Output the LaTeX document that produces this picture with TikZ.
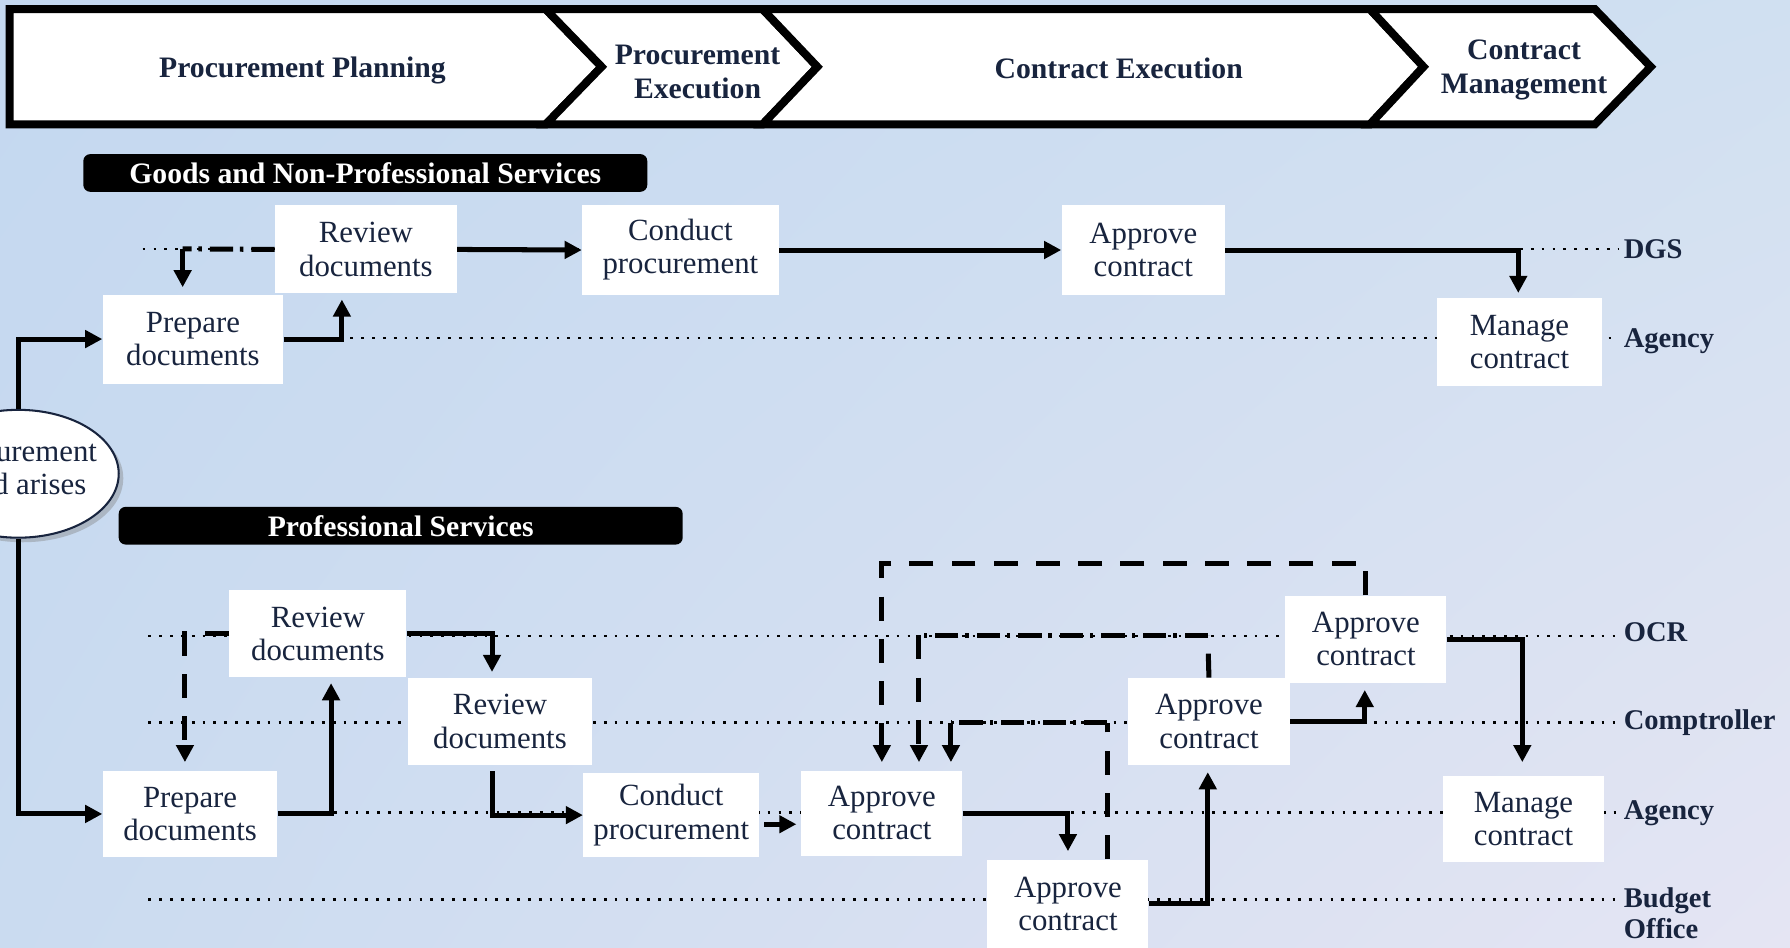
\documentclass[tikz,border=0pt]{standalone}
\usepackage{fontspec}
\setmainfont{Liberation Serif}
\usetikzlibrary{shapes.geometric,arrows.meta,calc,shadows,shadings}
\definecolor{navy}{RGB}{24,36,62}
\definecolor{bgUL}{RGB}{196,216,240}
\definecolor{bgUR}{RGB}{208,224,241}
\definecolor{bgLL}{RGB}{202,219,240}
\definecolor{bgLR}{RGB}{229,229,243}
\newcommand\dgbody{\fontsize{13.5}{14.5}\selectfont}
\newcommand\dglane{\bfseries\fontsize{12.5}{13.5}\selectfont}
\newcommand\dgtag{\bfseries\fontsize{13}{15}\selectfont}
\newcommand\dgphase{\bfseries\fontsize{13}{15}\selectfont}
\begin{document}
\begin{tikzpicture}[x=0.5pt,y=-0.5pt,
  box/.style={fill=white, text=navy, align=center, inner sep=0pt, font=\dgbody},
  flow/.style={line width=2.2pt, line join=miter, -{Triangle[length=7.5pt,width=7.5pt]}},
  dashedl/.style={line width=2.2pt, dash pattern=on 10.5pt off 8pt},
  dashdot/.style={line width=2.2pt, dash pattern=on 10.2pt off 3.5pt on 1.5pt off 3pt},
  lane/.style={line width=1.2pt, dash pattern=on 1.2pt off 3.55pt},
  lanelbl/.style={anchor=west, text=navy, font=\dglane, inner sep=0pt},
  tag/.style={fill=black, rounded corners=3pt, text=white, font=\dgtag, inner sep=0pt},
  phase/.style={line width=3.5pt, fill=white, line join=miter},
  phasetxt/.style={text=navy, font=\dgphase, align=center, inner sep=0pt}]
\clip (0,0) rectangle (1568,830.4);
\shade[upper left=bgUL, upper right=bgUR, lower left=bgLL, lower right=bgLR] (0,0) rectangle (1568,830.4);

% phase banner
\draw[phase] (8.5,8) -- (478,8) -- (527,58.5) -- (478,109) -- (8.5,109) -- cycle;
\draw[phase] (478,8) -- (668,8) -- (716,58.5) -- (668,109) -- (478,109) -- (527,58.5) -- cycle;
\draw[phase] (668,8) -- (1200,8) -- (1247,58.5) -- (1200,109) -- (668,109) -- (716,58.5) -- cycle;
\draw[phase] (1200,8) -- (1397,8) -- (1446,58.5) -- (1397,109) -- (1200,109) -- (1247,58.5) -- cycle;
\node[phasetxt] (ph1) at (265,62) {Procurement Planning};
\node[phasetxt] (ph2) at (611,63) {Procurement\\Execution};
\node[phasetxt] (ph3) at (980,60) {Contract Execution};
\node[phasetxt] (ph4) at (1335,61) {Contract\\Management};

% section tags
\node[tag, minimum width=247pt, minimum height=16.5pt] (tagG) at (320,151.5) {Goods and Non-Professional Services};
\node[tag, minimum width=247pt, minimum height=16.5pt] (tagP) at (351,460.5) {Professional Services};

% lane labels and lanes
\node[lanelbl] (lDGS) at (1422,218) {DGS};
\node[lanelbl] (lAg1) at (1422,299) {Agency};
\node[lanelbl] (lOCR) at (1422,554) {OCR};
\node[lanelbl] (lCom) at (1422,633) {Comptroller};
\node[lanelbl] (lAg2) at (1422,712) {Agency};
\node[lanelbl, align=left] (lBud) at (1422,800) {Budget\\Office};
\draw[lane] (125,218) -- (1418,218);
\draw[lane] (250,296) -- (1418,296);
\draw[lane] (130,557) -- (1418,557);
\draw[lane] (130,633) -- (1418,633);
\draw[lane] (245,712) -- (1418,712);
\draw[lane] (130,788) -- (1418,788);

% start ellipse
\node[ellipse, draw=navy, line width=0.9pt, fill=white, minimum width=88pt, minimum height=56pt,
  drop shadow={opacity=0.4, shadow xshift=2pt, shadow yshift=-2pt},
  inner sep=0pt] (ell) at (16,415) {};
\node[text=navy, font=\dgbody, align=center, inner sep=0pt] (ellT) at (16,410) {Procurement\\need arises};

% goods boxes
\node[box, minimum width=79.5pt, minimum height=38.5pt] (gRev) at (320.5,218.5) {Review\\documents};
\node[box, minimum width=86pt, minimum height=39pt] (gCon) at (596,219) {Conduct\\procurement};
\node[box, minimum width=71.5pt, minimum height=39pt] (gApp) at (1001.5,219) {Approve\\contract};
\node[box, minimum width=79pt, minimum height=39pt] (gPrep) at (169,297) {Prepare\\documents};
\node[box, minimum width=72pt, minimum height=38.5pt] (gMan) at (1331,299.5) {Manage\\contract};

% professional boxes
\node[box, minimum width=77.5pt, minimum height=38pt] (pRev1) at (278.5,555) {Review\\documents};
\node[box, minimum width=81pt, minimum height=38pt] (pRev2) at (438,632) {Review\\documents};
\node[box, minimum width=76.5pt, minimum height=38pt] (pPrep) at (166.5,713) {Prepare\\documents};
\node[box, minimum width=77pt, minimum height=37pt] (pCon) at (588,714) {Conduct\\procurement};
\node[box, minimum width=70.5pt, minimum height=37.5pt] (pApp1) at (772.5,712.5) {Approve\\contract};
\node[box, minimum width=70.5pt, minimum height=38.5pt] (pApp2) at (935.5,791.5) {Approve\\contract};
\node[box, minimum width=71pt, minimum height=38pt] (pApp3) at (1059,632) {Approve\\contract};
\node[box, minimum width=70.5pt, minimum height=38pt] (pApp4) at (1196.5,560) {Approve\\contract};
\node[box, minimum width=70.5pt, minimum height=37.5pt] (pMan) at (1334.5,717.5) {Manage\\contract};

% goods connectors
\draw[flow] (ell.north) |- (gPrep.west);
\draw[flow] (gPrep.east) -| ($(gRev.south)+(-21,5)$);
\draw[flow] (gRev.east) -- (gCon.west);
\draw[flow] (gCon.east) -- (gApp.west);
\draw[flow] (gApp.east) -| ($(gMan.north)+(-1,-4)$);
\coordinate (gk) at (160,218);
\draw[dashdot] (gRev.west) -- (gk);
\draw[flow] (gk) -- ($(gk |- gPrep.north)+(0,-6)$);

% professional connectors
\draw[flow] (ell.south) |- (pPrep.west);
\draw[flow] (pPrep.east) -| ($(pRev1.south)+(11.5,5)$);
\draw[flow] (pRev1.east) -| ($(pRev2.north)+(-7,-5)$);
\draw[flow] ($(pRev2.south)+(-7,5)$) |- (pCon.west);
\coordinate (c5) at ($(pCon.east)+(4,8)$);
\draw[flow] (c5) -- ($(c5 -| pApp1.west)+(-4,0)$);
\draw[flow] (pApp1.east) -| ($(pApp2.north)+(0,-7)$);
\draw[flow] (pApp2.east) -| ($(pApp3.south)+(-1,6)$);
\draw[flow] (pApp3.east) -| ($(pApp4.south)+(-1,6)$);
\draw[flow] (pApp4.east) -| ($(pMan.north)+(-1,-12)$);

% dashed returns
\coordinate (pk1) at (162,555);
\draw[dashedl, -{Triangle[length=7.5pt,width=7.5pt]}] (pRev1.west) -- (pk1) -- ($(pk1 |- pPrep.north)+(0,-7)$);
\draw[dashedl, -{Triangle[length=7.5pt,width=7.5pt]}] (pApp4.north) -- ++(0,-28) -| ($(pApp1.north)+(0,-7)$);
\coordinate (k1) at ($(pApp3.north)+(-1,-37)$);
\coordinate (k2) at ($(k1 -| pApp1.north)+(32.5,0)$);
\draw[dashedl] (pApp3.north) -- (k1);
\draw[dashdot] (k1) -- (k2);
\draw[dashedl, -{Triangle[length=7.5pt,width=7.5pt]}] (k2) -- ($(k2 |- pApp1.north)+(0,-7)$);
\coordinate (k3) at ($(pApp2.north)+(34.5,0)$);
\coordinate (k4) at (970,633);
\coordinate (k5) at (833,633);
\draw[dashedl] (k3) -- (k4);
\draw[dashdot] (k4) -- (k5);
\draw[flow] (k5) -- ($(k5 |- pApp1.north)+(0,-7)$);
\end{tikzpicture}
\end{document}
